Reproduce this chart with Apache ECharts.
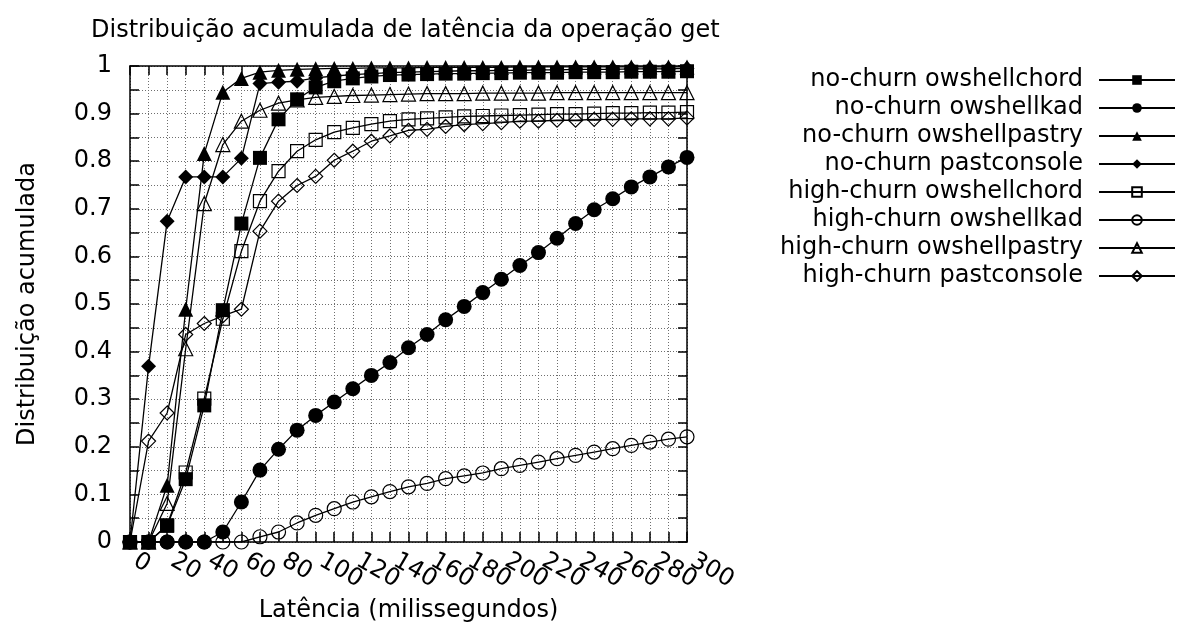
<!DOCTYPE html>
<html>
<head>
<meta charset="utf-8">
<script src="https://cdn.jsdelivr.net/npm/echarts@6/dist/echarts.min.js"></script>
<style>
html,body{margin:0;padding:0;background:#fff;}
#chart{width:1179px;height:628px;}
</style>
</head>
<body>
<div id="chart"></div>
<script>
const latency = [0,10,20,30,40,50,60,70,80,90,100,110,120,130,140,150,160,170,180,190,200,210,220,230,240,250,260,270,280,290,300];

const noChurnChord   = [0,0,0.034,0.132,0.287,0.487,0.669,0.807,0.888,0.930,0.955,0.968,0.974,0.978,0.981,0.982,0.983,0.984,0.984,0.985,0.985,0.986,0.986,0.986,0.987,0.987,0.987,0.988,0.988,0.988,0.989];
const noChurnKad     = [0,0,0,0,0,0.021,0.084,0.151,0.195,0.235,0.266,0.294,0.322,0.350,0.377,0.408,0.436,0.467,0.495,0.524,0.552,0.581,0.608,0.638,0.669,0.698,0.721,0.746,0.767,0.788,0.808];
const noChurnPastry  = [0,0,0.119,0.489,0.816,0.945,0.974,0.987,0.991,0.993,0.994,0.995,0.995,0.996,0.996,0.996,0.997,0.997,0.997,0.997,0.997,0.998,0.998,0.998,0.998,0.998,0.998,0.998,0.998,0.998,0.998];
const noChurnConsole = [0,0.369,0.674,0.767,0.767,0.767,0.806,0.963,0.966,0.968,0.975,0.979,0.982,0.984,0.986,0.987,0.988,0.989,0.990,0.990,0.991,0.991,0.992,0.992,0.993,0.993,0.993,0.994,0.994,0.994,0.995];
const highChurnChord   = [0,0,0.035,0.146,0.301,0.469,0.611,0.716,0.779,0.821,0.845,0.861,0.870,0.878,0.884,0.888,0.890,0.892,0.894,0.895,0.896,0.897,0.898,0.899,0.899,0.900,0.901,0.901,0.902,0.902,0.903];
const highChurnKad     = [0,0,0,0,0,0,0,0.011,0.021,0.040,0.056,0.070,0.084,0.095,0.106,0.116,0.123,0.133,0.139,0.145,0.154,0.161,0.168,0.175,0.182,0.189,0.196,0.203,0.210,0.216,0.221];
const highChurnPastry  = [0,0,0.081,0.406,0.711,0.835,0.884,0.907,0.922,0.929,0.934,0.936,0.938,0.939,0.940,0.941,0.942,0.942,0.942,0.943,0.943,0.943,0.943,0.944,0.944,0.944,0.944,0.944,0.944,0.944,0.944];
const highChurnConsole = [0,0.212,0.271,0.436,0.459,0.475,0.489,0.653,0.716,0.749,0.768,0.802,0.821,0.842,0.853,0.865,0.867,0.873,0.877,0.879,0.881,0.884,0.884,0.886,0.886,0.888,0.888,0.889,0.889,0.889,0.891];

const seriesNames = ['no-churn owshellchord','no-churn owshellkad','no-churn owshellpastry','no-churn pastconsole','high-churn owshellchord','high-churn owshellkad','high-churn owshellpastry','high-churn pastconsole'];
const seriesValues = [noChurnChord,noChurnKad,noChurnPastry,noChurnConsole,highChurnChord,highChurnKad,highChurnPastry,highChurnConsole];
const seriesSymbols = ['rect','circle','triangle','diamond','rect','circle','triangle','diamond'];
const seriesFilled = [true,true,true,true,false,false,false,false];
const seriesSizes = [14,15,15,15,13,14,14,14];

const titleText = 'Distribuição acumulada de latência da operação get';
const xName = 'Latência (milissegundos)';
const yName = 'Distribuição acumulada';

const FONT = 'DejaVu Sans';
const chart = echarts.init(document.getElementById('chart'), null, {renderer:'canvas'});

const series = seriesNames.map((name, i) => ({
  name: name,
  type: 'line',
  data: latency.map((x, j) => [x, seriesValues[i][j]]),
  symbol: seriesSymbols[i],
  symbolSize: seriesSizes[i],
  showAllSymbol: true,
  lineStyle: {color: '#000', width: 1.3},
  itemStyle: seriesFilled[i]
    ? {color: '#000', borderColor: '#000', borderWidth: 0}
    : {color: 'rgba(0,0,0,0)', borderColor: '#000', borderWidth: 1.2},
  emphasis: {disabled: true},
  z: 2 + i
}));

const gridLine = {show: true, lineStyle: {color: '#6e6e6e', width: 1, type: [1, 2]}};

chart.setOption({
  animation: false,
  backgroundColor: '#fff',
  textStyle: {fontFamily: FONT},
  title: {
    text: titleText,
    left: 86, top: 14,
    textStyle: {fontFamily: FONT, fontSize: 24, fontWeight: 'normal', color: '#000'}
  },
  legend: {
    orient: 'vertical',
    right: 3, top: 68,
    padding: 0,
    align: 'right',
    itemWidth: 76, itemHeight: 12, itemGap: 4,
    textStyle: {fontFamily: FONT, fontSize: 24, color: '#000', padding: [0, 11, 0, 0]},
    data: seriesNames
  },
  grid: {left: 130, right: 492, top: 66, bottom: 86, containLabel: false},
  xAxis: [{
    type: 'value', min: 0, max: 300, interval: 10,
    name: xName, nameLocation: 'middle', nameGap: 56,
    nameTextStyle: {fontFamily: FONT, fontSize: 24, color: '#000'},
    axisLine: {show: true, onZero: false, lineStyle: {color: '#000', width: 1.5}},
    axisTick: {show: true, inside: true, length: 10, lineStyle: {color: '#000', width: 1.5}},
    axisLabel: {
      show: true, rotate: -30, margin: 14,
      padding: [0, 0, 0, 6],
      fontFamily: FONT, fontSize: 24, color: '#000',
      formatter: v => (Math.round(v) % 20 === 0 ? String(Math.round(v)) : '')
    },
    splitLine: gridLine
  }, {
    type: 'value', min: 0, max: 300, interval: 10, position: 'top',
    axisLine: {show: true, onZero: false, lineStyle: {color: '#000', width: 1.5}},
    axisTick: {show: true, inside: true, length: 9, lineStyle: {color: '#000', width: 1.5}},
    axisLabel: {show: false},
    splitLine: {show: false}
  }],
  yAxis: [{
    type: 'value', min: 0, max: 1, interval: 0.05,
    name: yName, nameLocation: 'middle', nameGap: 90, nameRotate: 90,
    nameTextStyle: {fontFamily: FONT, fontSize: 24, color: '#000'},
    axisLine: {show: true, onZero: false, lineStyle: {color: '#000', width: 1.5}},
    axisTick: {show: true, inside: true, length: 9, lineStyle: {color: '#000', width: 1.5}},
    axisLabel: {
      show: true, margin: 18,
      fontFamily: FONT, fontSize: 24, color: '#000',
      formatter: v => {
        const k = Math.round(v * 100);
        if (k % 10 !== 0) return '';
        if (k === 0) return '0';
        if (k === 100) return '1';
        return (k / 100).toFixed(1);
      }
    },
    splitLine: gridLine
  }, {
    type: 'value', min: 0, max: 1, interval: 0.05, position: 'right',
    axisLine: {show: true, onZero: false, lineStyle: {color: '#000', width: 1.5}},
    axisTick: {show: true, inside: true, length: 9, lineStyle: {color: '#000', width: 1.5}},
    axisLabel: {show: false},
    splitLine: {show: false}
  }],
  series: series
});
</script>
</body>
</html>
